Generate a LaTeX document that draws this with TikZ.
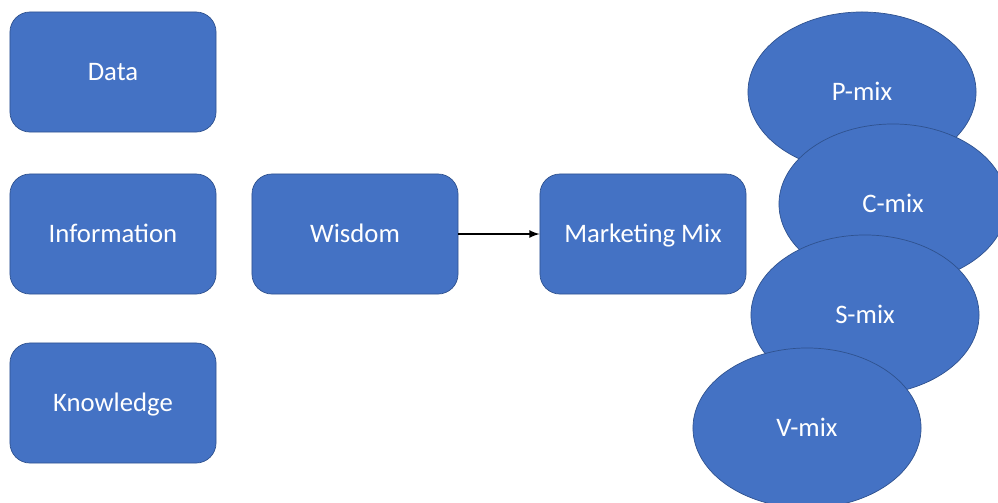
\documentclass[tikz,border=0pt]{standalone}
\usepackage{fontspec}
\setmainfont{Carlito}
\usetikzlibrary{shapes.geometric}
\definecolor{officeblue}{HTML}{4472C4}
\definecolor{officeedge}{HTML}{2F528F}
\tikzset{
	box/.style = {draw = officeedge, line width = 0.5pt, fill = officeblue, text = white,
		rounded corners = 0.5cm, minimum width = 5.15cm, minimum height = 3cm,
		inner sep = 0pt, text height = 12.2pt, text depth = 0pt,
		font = \fontsize{19}{22}\selectfont},
	mix/.style = {ellipse, draw = officeedge, line width = 0.5pt, fill = officeblue, text = white,
		minimum width = 5.7cm, minimum height = 4cm,
		inner sep = 0pt, text height = 12.2pt, text depth = 0pt,
		font = \fontsize{19}{22}\selectfont}
}
\begin{document}
\begin{tikzpicture}[x = 0.025cm, y = -0.025cm]
		\useasboundingbox (0,0) rectangle (998,502);
		\clip (0,0) rectangle (998,502);
		\node[box] at (113,72)(data){Data};
		\node[box] at (113,234)(info){Information};
		\node[box] at (113,403)(know){Knowledge};
		\node[box] at (355,234)(wis){Wisdom};
		\node[box] at (643,234)(mm){Marketing Mix};
		\path[-latex, line width = 1.5pt] (wis) edge (mm);

		\node[mix] at (862,92)(p){P-mix};
		\node[mix] at (893,204)(c){C-mix};
		\node[mix] at (865,315)(s){S-mix};
		\node[mix] at (807,428)(v){V-mix};
	\end{tikzpicture}
\end{document}
